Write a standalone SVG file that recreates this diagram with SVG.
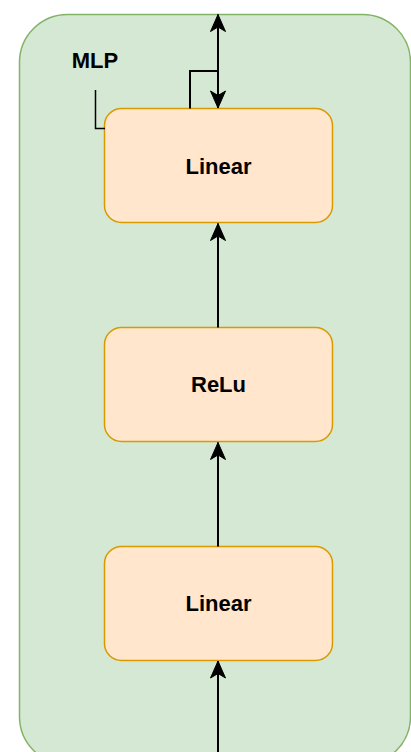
<svg xmlns="http://www.w3.org/2000/svg" width="411" height="752" viewBox="0 0 411 752">
  <style>
    .container { fill: #d5e8d4; stroke: #82b366; stroke-width: 1.5; }
    .node { fill: #ffe6cc; stroke: #d79b00; stroke-width: 1.5; }
    .label { font-family: "Liberation Sans", Arial, sans-serif; font-weight: bold; font-size: 22px; fill: #000; text-anchor: middle; }
    .edge { fill: none; stroke: #000; stroke-width: 2; }
    .thin { fill: none; stroke: #000; stroke-width: 1.5; }
  </style>
  <defs>
    <marker id="arrow" markerUnits="userSpaceOnUse" markerWidth="20" markerHeight="20" viewBox="-18 -10 20 20" refX="0" refY="0" orient="auto-start-reverse">
      <path d="M0,0 L-17,-7.5 L-12.5,0 L-17,7.5 Z" fill="#000" stroke="#000" stroke-width="1"/>
    </marker>
  </defs>
  <g id="mlp-container">
    <rect class="container" x="19.5" y="14.5" width="391" height="750" rx="48" ry="48"/>
    <text class="label" x="95" y="68">MLP</text>
  </g>
  <g id="linear-top">
    <rect class="node" x="104.5" y="108.5" width="228" height="114" rx="17" ry="17"/>
    <text class="label" x="218.5" y="173.5">Linear</text>
  </g>
  <g id="relu">
    <rect class="node" x="104.5" y="327.5" width="228" height="114" rx="17" ry="17"/>
    <text class="label" x="218.5" y="392">ReLu</text>
  </g>
  <g id="linear-bottom">
    <rect class="node" x="104.5" y="546.5" width="228" height="114" rx="17" ry="17"/>
    <text class="label" x="218.5" y="611">Linear</text>
  </g>
  <g id="connectors">
    <path class="edge" d="M218,752 L218,661" marker-end="url(#arrow)"/>
    <path class="edge" d="M218,546.5 L218,442.5" marker-end="url(#arrow)"/>
    <path class="edge" d="M218,327.5 L218,223.5" marker-end="url(#arrow)"/>
    <path class="edge" d="M218,14.5 L218,108" marker-start="url(#arrow)" marker-end="url(#arrow)"/>
    <path class="edge" d="M190,108.5 L190,71 L218,71"/>
    <path class="thin" d="M95.5,90 L95.5,128.5 L105,128.5"/>
  </g>
</svg>
